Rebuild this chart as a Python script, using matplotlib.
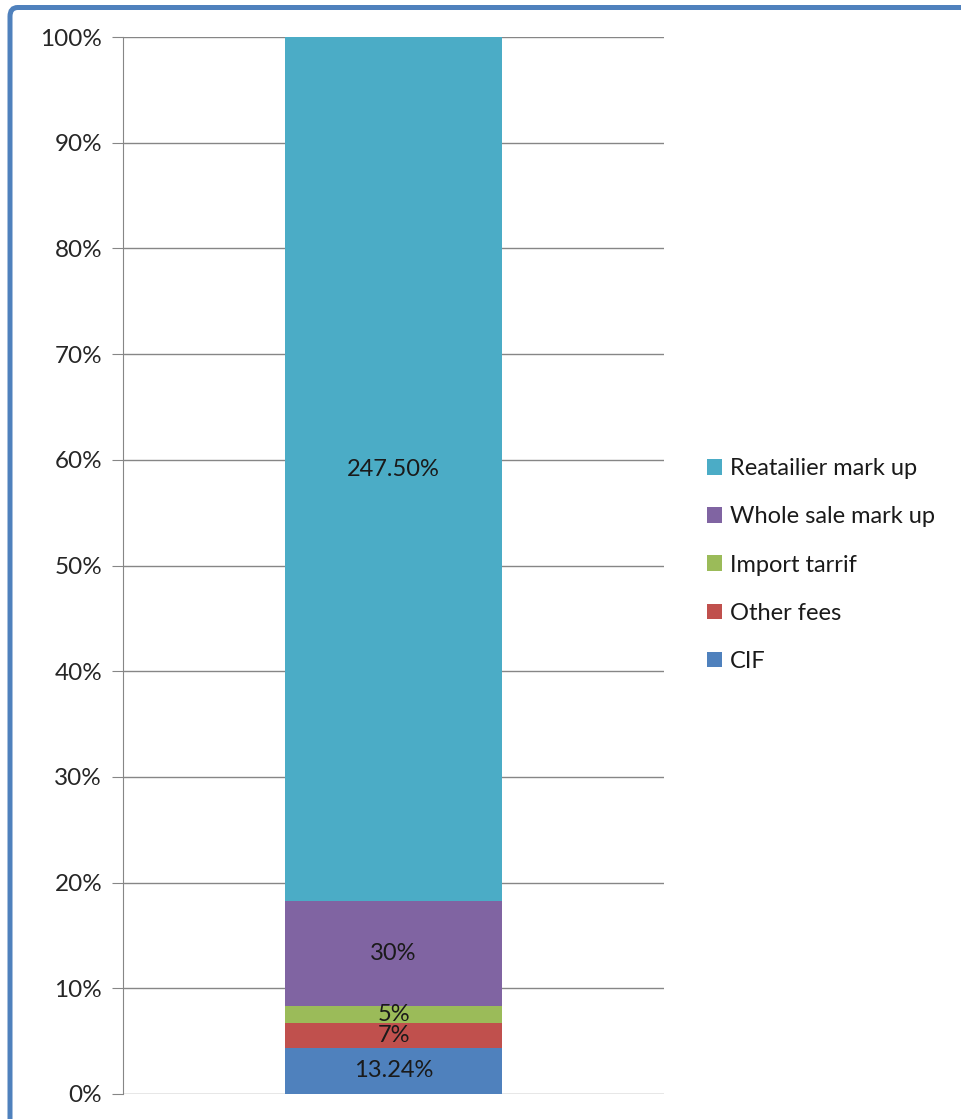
import matplotlib.pyplot as plt
import numpy as np
from matplotlib.patches import FancyBboxPatch

plt.rcParams['font.family'] = ['Lato', 'DejaVu Sans']

# cost components (values as labelled on the chart, stacked to 100%)
components = ['CIF', 'Other fees', 'Import tarrif', 'Whole sale mark up', 'Reatailier mark up']
values = [13.24, 7, 5, 30, 247.50]
labels = ['13.24%', '7%', '5%', '30%', '247.50%']
colors = ['#4F81BD', '#C0504D', '#9BBB59', '#8064A2', '#4BACC6']
yticks = [0, 10, 20, 30, 40, 50, 60, 70, 80, 90, 100]

fig = plt.figure(figsize=(9.61, 11.19), dpi=100)

# blue frame, right and bottom edges run off the picture
frame = FancyBboxPatch((10 / 961, -0.05), 1.2, 1 - 7.5 / 1119 + 0.05,
                       boxstyle='round,pad=0,rounding_size=0.008',
                       transform=fig.transFigure, fill=False,
                       edgecolor='#4F81BD', linewidth=3.6, zorder=0)
fig.patches.append(frame)

ax = fig.add_axes([123 / 961, 1 - 1094 / 1119, (664 - 123) / 961, (1094 - 37) / 1119])

pct = np.array(values) / sum(values) * 100
bottom = 0
handles = []
for name, p, lab, c in zip(components, pct, labels, colors):
    b = ax.bar(0, p, width=0.4, bottom=bottom, color=c, label=name, zorder=2)
    handles.append(b)
    ax.text(0, bottom + p / 2, lab, ha='center', va='center',
            fontsize=17, color='#1a1a1a', zorder=3)
    bottom += p

ax.set_xlim(-0.5, 0.5)
ax.set_ylim(0, 100)
ax.set_yticks(yticks)
ax.set_yticklabels([f'{t}%' for t in yticks])
ax.set_xticks([])
ax.yaxis.grid(True, color='#868686', linewidth=1)
ax.set_axisbelow(True)
for s in ['top', 'right', 'bottom']:
    ax.spines[s].set_visible(False)
ax.spines['left'].set_color('#868686')
ax.tick_params(axis='y', length=8, color='#868686', labelsize=17.5,
               labelcolor='#262626', pad=7)

leg = fig.legend(handles[::-1], components[::-1], loc='center left',
                 bbox_to_anchor=(707 / 961, 1 - 565 / 1119), frameon=False,
                 fontsize=17, handlelength=0.64, handleheight=0.64,
                 handletextpad=0.34, labelspacing=1.15,
                 borderpad=0, borderaxespad=0)
for t in leg.get_texts():
    t.set_color('#1a1a1a')

fig.savefig('out.png', dpi=100)
